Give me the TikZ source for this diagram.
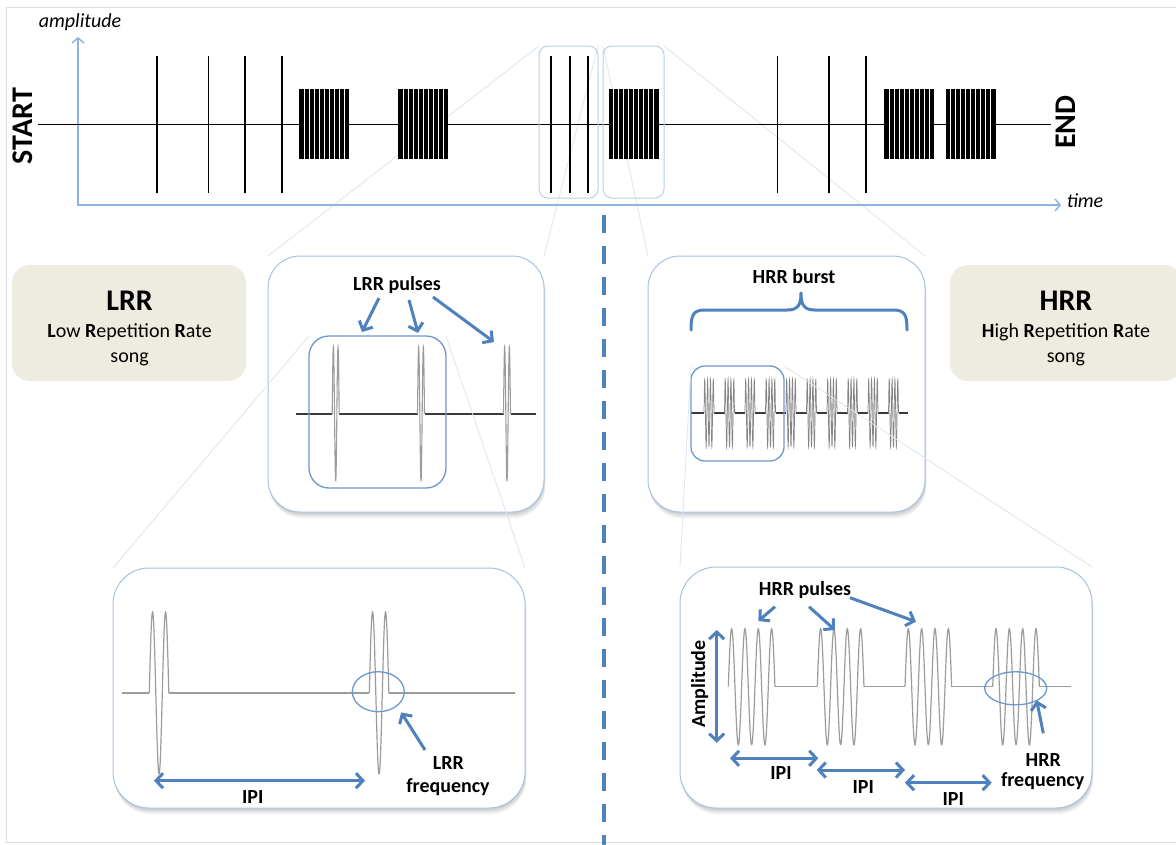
\documentclass[tikz,border=0pt]{standalone}
\usepackage{fontspec}
\setmainfont{Carlito}
\usetikzlibrary{arrows.meta,shapes.geometric,shadows}
\definecolor{axisblue}{HTML}{8DB4E2}
\definecolor{arrblue}{HTML}{4F81BD}
\definecolor{boxline}{HTML}{A9C2E2}
\definecolor{hiline}{HTML}{6D98CE}
\definecolor{tanfill}{HTML}{EEECE1}
\definecolor{wavegray}{HTML}{9C9C9C}
\definecolor{faintline}{HTML}{DCE5F0}
\definecolor{framegray}{HTML}{DDDDDD}
\definecolor{basedark}{HTML}{3A3A3A}
\pgfdeclarelayer{bg}
\pgfdeclarelayer{fg}
\pgfsetlayers{bg,main,fg}
\begin{document}
\begin{tikzpicture}[x=1pt,y=-1pt,
  lbl/.style={font=\fontsize{20}{24}\selectfont\bfseries, inner sep=0pt, anchor=base},
  wbox/.style={draw=boxline, line width=1pt, fill=white, rounded corners=#1, inner sep=0pt, outer sep=0pt,
    preaction={fill=black, opacity=0.07, transform canvas={xshift=0.5pt, yshift=-2pt}},
    preaction={fill=black, opacity=0.07, transform canvas={xshift=1pt, yshift=-4pt}},
    preaction={fill=black, opacity=0.06, transform canvas={xshift=1.5pt, yshift=-6pt}}},
  hibox/.style={draw=hiline, line width=1.3pt, rounded corners=#1, inner sep=0pt, outer sep=0pt},
  thinbox/.style={draw=boxline!80, line width=1pt, rounded corners=9pt, inner sep=0pt, outer sep=0pt},
  tanbox/.style={fill=tanfill, rounded corners=18pt, inner sep=0pt, outer sep=0pt},
  axisline/.style={draw=axisblue, line width=1.5pt, {Straight Barb[length=5pt,width=12pt]}-{Straight Barb[length=5pt,width=12pt]}},
  barr/.style={draw=arrblue, line width=3pt, -{Straight Barb[length=7pt,width=15pt]}},
  darr/.style={draw=arrblue, line width=3pt, {Straight Barb[length=7pt,width=15pt]}-{Straight Barb[length=7pt,width=15pt]}},
  faint/.style={draw=faintline, line width=0.8pt},
  wave/.style={draw=wavegray, line width=1.2pt},
  ell/.style={draw=hiline, line width=1.3pt, ellipse, inner sep=0pt, outer sep=0pt}
]
\useasboundingbox (0,0) rectangle (1176,844);
\begin{pgfonlayer}{bg}
\fill[white] (0,0) rectangle (1176,844);
\end{pgfonlayer}
\draw[framegray, line width=1pt] (1180,7) -- (6,7) -- (6,842) -- (1180,842);

% ---------- top strip ----------
\coordinate (amptop) at (78,37);
\coordinate (origin) at (78,205);
\coordinate (timeend) at (1061,205);
\draw[axisline] (amptop) -- (origin) -- (timeend);
\coordinate (bl0) at (38,124.5);
\coordinate (bl1) at (1051,124.5);
\draw[black, line width=1.5pt] (bl0) -- (bl1);
\foreach \px in {157,208.5,245,282,551,570,588,777.6,829,866}
  \draw[black, line width=1.5pt] (\px,56) -- (\px,193);
\foreach \a in {299,398,608.5,884,945.6} {
  \fill[black] (\a,89) rectangle ({\a+50},159);
  \foreach \k in {1,...,9}
    \draw[white, line width=0.6pt] ({\a+\k*5},89) -- ({\a+\k*5},159);
}
\node[thinbox, minimum width=59pt, minimum height=152pt] (zoomL) at (568.5,122) {};
\node[thinbox, minimum width=61pt, minimum height=152pt] (zoomH) at (633.5,122) {};
\node[rotate=90, font=\fontsize{30}{30}\selectfont\bfseries, inner sep=0pt] (startlbl) at (23,126) {START};
\node[rotate=90, font=\fontsize{30}{30}\selectfont\bfseries, inner sep=0pt] (endlbl) at (1066,122) {END};
\node[font=\fontsize{20}{24}\selectfont\itshape, inner sep=0pt, anchor=base] (amplbl) at (80,27) {amplitude};
\node[font=\fontsize{20}{24}\selectfont\itshape, inner sep=0pt, anchor=base] (timelbl) at (1085,207) {time};

% ---------- grey tags ----------
\node[tanbox, minimum width=234pt, minimum height=116pt] (lrrtag) at (129,323) {};
\node[tanbox, minimum width=232pt, minimum height=116pt] (hrrtag) at (1066,323) {};
\node[font=\fontsize{30}{32}\selectfont\bfseries, inner sep=0pt, anchor=base] (lrrT) at (129.6,310.7) {LRR};
\node[font=\fontsize{20}{24}\selectfont, inner sep=0pt, anchor=base] (lrrS) at (129.6,337.7) {\textbf{L}ow \textbf{R}epetition \textbf{R}ate};
\node[font=\fontsize{20}{24}\selectfont, inner sep=0pt, anchor=base] (lrrS2) at (129.6,362) {song};
\node[font=\fontsize{30}{32}\selectfont\bfseries, inner sep=0pt, anchor=base] (hrrT) at (1066,310.7) {HRR};
\node[font=\fontsize{20}{24}\selectfont, inner sep=0pt, anchor=base] (hrrS) at (1066,337.7) {\textbf{H}igh \textbf{R}epetition \textbf{R}ate};
\node[font=\fontsize{20}{24}\selectfont, inner sep=0pt, anchor=base] (hrrS2) at (1066,362) {song};

% ---------- middle boxes ----------
\node[wbox=32pt, minimum width=276pt, minimum height=256pt] (lrrmid) at (406,384) {};
\node[wbox=32pt, minimum width=277pt, minimum height=256pt] (hrrmid) at (786.5,384) {};

% ---------- bottom boxes ----------
\begin{pgfonlayer}{fg}
\node[wbox=36pt, minimum width=412pt, minimum height=240pt] (lrrbot) at (319,688) {};
\node[wbox=36pt, minimum width=412pt, minimum height=241pt] (hrrbot) at (886,687.5) {};
\end{pgfonlayer}

% projection lines (behind)
\begin{pgfonlayer}{bg}
\draw[faint] (zoomL.north west) -- (lrrmid.north west);
\draw[faint] (zoomL.north east) -- (lrrmid.north east);
\draw[faint] (zoomH.north west) -- (hrrmid.north west);
\draw[faint] (zoomH.north east) -- (hrrmid.north east);
\end{pgfonlayer}

% LRR middle content
\draw[basedark, line width=1.8pt] (296,414) -- (332.2,414) (339.2,414) -- (417.5,414)
  (424.5,414) -- (503.5,414) (510.5,414) -- (536,414);
\foreach \c in {335.7,421,507}
  \draw[wavegray, line width=1.1pt] plot[domain=0:7, samples=60, smooth] ({\c-3.5+\x},{414-67*sin(\x/4.6667*360)});
\node[hibox=20pt, minimum width=137pt, minimum height=152pt] (lrrinner) at (377.5,412) {};
\node[lbl] (lrrpul) at (397,290) {LRR pulses};
\coordinate (p1s) at (379,298); \coordinate (p1e) at (362,332);
\coordinate (p2s) at (409,300); \coordinate (p2e) at (418,333);
\coordinate (p3s) at (433,297); \coordinate (p3e) at (494,342);
\draw[barr] (p1s) -- (p1e);
\draw[barr] (p2s) -- (p2e);
\draw[barr] (p3s) -- (p3e);

% HRR middle content
\draw[basedark, line width=1.5pt] (691,413) -- (704,413);
\foreach \i in {0,...,8}
  \draw[basedark, line width=1.5pt] ({709+20.5*\i+5},413) -- ({709+20.5*(\i+1)-5},413);
\draw[basedark, line width=1.5pt] (898.5,413) -- (908,413);
\foreach \i in {0,...,9}
  \draw[wavegray!85!black, line width=0.7pt] plot[domain=0:10, samples=90] ({709+20.5*\i-5+\x},{413-34*sin(\x/2.857*360)});
\node[hibox=14pt, minimum width=93pt, minimum height=95pt] (hrrinner) at (737.5,413.5) {};
\node[lbl] (burst) at (794,283.3) {HRR burst};
\draw[arrblue, line width=3pt, line cap=round, line join=round]
  (691,330) .. controls (691,315) and (693,310) .. (705,310) -- (787,310)
  .. controls (798,310) and (801,305) .. (801,293)
  .. controls (801,305) and (804,310) .. (815,310) -- (893,310)
  .. controls (905,310) and (907,315) .. (907,330);

% projection lines to bottom boxes
\draw[faint] (lrrinner.north west) -- (lrrbot.north west);
\draw[faint] (lrrinner.north east) -- (lrrbot.north east);
\draw[faint] (hrrinner.north west) -- (hrrbot.north west);
\draw[faint] (hrrinner.north east) -- (hrrbot.north east);

% dashed separator
\coordinate (dtop) at (603.5,215);
\coordinate (dbot) at (603.5,846);
\draw[arrblue, line width=4pt, dash pattern=on 18pt off 13pt] (dtop) -- (dbot);

\begin{pgfonlayer}{fg}
% LRR bottom content
\draw[wave, line width=1.4pt] (122,693) -- (149.3,693) (168.8,693) -- (369.3,693) (388.8,693) -- (515,693);
\foreach \s in {149.3,369.3}
  \draw[wave] plot[domain=0:19.5, samples=80, smooth] ({\s+\x},{693-81*sin(\x/13*360)});
\node[ell, minimum width=52pt, minimum height=40pt] (lrrell) at (378.3,691.7) {};
\coordinate (lfs) at (425,750);
\draw[barr, shorten >=8pt] (lfs) -- (lrrell.-37);
\coordinate (ipiA) at (154,780.7); \coordinate (ipiB) at (365,780.7);
\draw[darr] (ipiA) -- (ipiB);
\node[lbl] (ipiL) at (252.7,803.7) {IPI};
\node[lbl] (lrrF1) at (448.3,769.5) {LRR};
\node[lbl] (lrrF2) at (448,792) {frequency};

% HRR bottom content
\draw[wave, line width=1.3pt] (774.97,686.7) -- (817.3,686.7) (863.97,686.7) -- (905,686.7)
  (951.67,686.7) -- (992.7,686.7) (1039.37,686.7) -- (1070.7,686.7);
\foreach \s in {728.3,817.3,905,992.7}
  \draw[wave] plot[domain=0:46.667, samples=160, smooth] ({\s+\x},{686.7-58*sin(\x/13.333*360)});
\node[ell, minimum width=62pt, minimum height=33pt] (hrrell) at (1015.7,688.3) {};
\coordinate (hfs) at (1043.3,733.3);
\draw[barr] (hfs) -- (hrrell.-30);
\node[lbl] (hpul) at (805,595) {HRR pulses};
\coordinate (h1s) at (775,606.7); \coordinate (h1e) at (758.3,621);
\coordinate (h2s) at (809,606.7); \coordinate (h2e) at (835,630);
\coordinate (h3s) at (850,597.7); \coordinate (h3e) at (916,621.7);
\draw[barr] (h1s) -- (h1e);
\draw[barr] (h2s) -- (h2e);
\draw[barr] (h3s) -- (h3e);
\coordinate (amA) at (716.7,630); \coordinate (amB) at (716.7,742.7);
\draw[darr] (amA) -- (amB);
\node[lbl, rotate=90] (amplL) at (705,684) {Amplitude};
\coordinate (i1a) at (730,758.3); \coordinate (i1b) at (818.3,758.3);
\coordinate (i2a) at (816.7,770); \coordinate (i2b) at (905,770);
\coordinate (i3a) at (905,782.7); \coordinate (i3b) at (991.7,782.7);
\draw[darr] (i1a) -- (i1b);
\draw[darr] (i2a) -- (i2b);
\draw[darr] (i3a) -- (i3b);
\node[lbl] (ipi1) at (781,779.7) {IPI};
\node[lbl] (ipi2) at (863.3,793) {IPI};
\node[lbl] (ipi3) at (953.3,805.7) {IPI};
\node[lbl] (hrrF1) at (1043.3,766.7) {HRR};
\node[lbl] (hrrF2) at (1042.7,786.5) {frequency};
\end{pgfonlayer}
\end{tikzpicture}
\end{document}
